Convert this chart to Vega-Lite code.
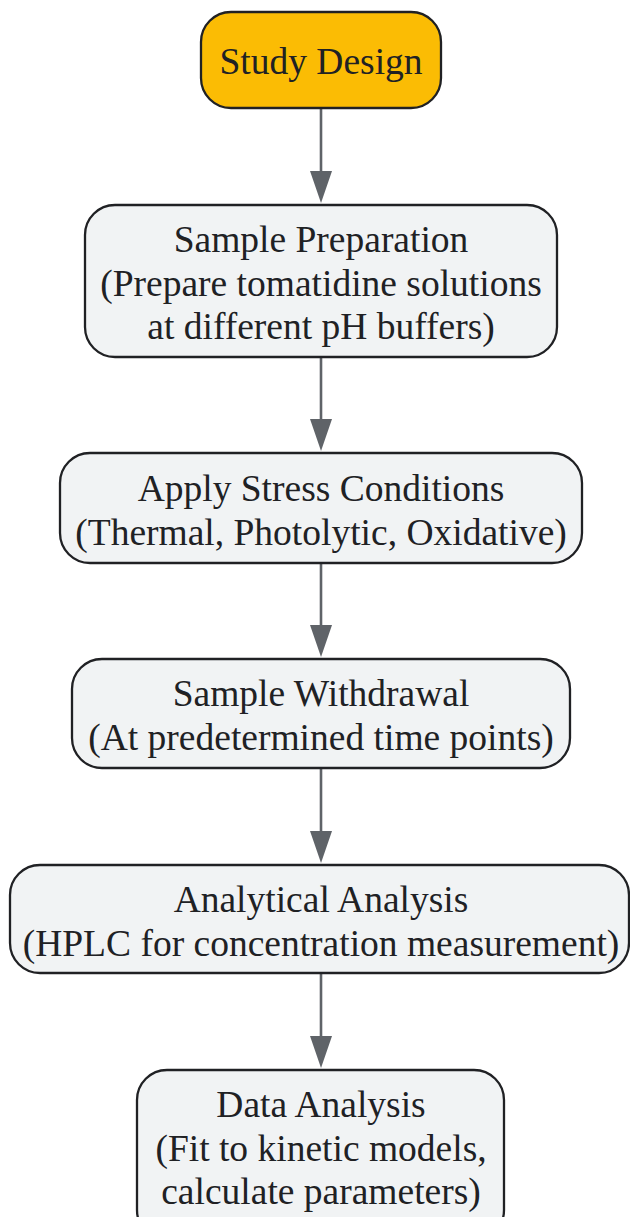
{
  "$schema": "https://vega.github.io/schema/vega-lite/v6.json",
  "width": 630,
  "height": 1217,
  "padding": 0,
  "autosize": {"type": "none"},
  "background": "white",
  "config": {"view": {"stroke": null}},
  "datasets": {
    "nodes": [
      {"id": 1, "label": "Study Design", "x1": 201, "x2": 441, "y1": 12, "y2": 108, "cx": 321, "cy": 63, "kind": "start"},
      {"id": 2, "label": "Sample Preparation\n(Prepare tomatidine solutions\nat different pH buffers)", "x1": 85, "x2": 557, "y1": 205, "y2": 357, "cx": 321, "cy": 241, "kind": "step"},
      {"id": 3, "label": "Apply Stress Conditions\n(Thermal, Photolytic, Oxidative)", "x1": 60, "x2": 582, "y1": 453, "y2": 563, "cx": 321, "cy": 490, "kind": "step"},
      {"id": 4, "label": "Sample Withdrawal\n(At predetermined time points)", "x1": 72, "x2": 570, "y1": 659, "y2": 768, "cx": 321, "cy": 695, "kind": "step"},
      {"id": 5, "label": "Analytical Analysis\n(HPLC for concentration measurement)", "x1": 10, "x2": 629, "y1": 865, "y2": 973, "cx": 321, "cy": 901, "kind": "step"},
      {"id": 6, "label": "Data Analysis\n(Fit to kinetic models,\ncalculate parameters)", "x1": 137, "x2": 504, "y1": 1070, "y2": 1240, "cx": 321, "cy": 1106, "kind": "step"}
    ],
    "edges": [
      {"from": 1, "to": 2, "x": 321, "ys": 108, "ye": 180, "tip": 203},
      {"from": 2, "to": 3, "x": 321, "ys": 357, "ye": 428, "tip": 451},
      {"from": 3, "to": 4, "x": 321, "ys": 563, "ye": 634, "tip": 657},
      {"from": 4, "to": 5, "x": 321, "ys": 768, "ye": 840, "tip": 863},
      {"from": 5, "to": 6, "x": 321, "ys": 973, "ye": 1045, "tip": 1068}
    ]
  },
  "layer": [
    {
      "data": {"name": "edges"},
      "mark": {"type": "rule", "color": "#5f6368", "strokeWidth": 2.6},
      "encoding": {
        "x": {"field": "x", "type": "quantitative", "scale": {"domain": [0, 630], "nice": false, "zero": false}, "axis": null},
        "y": {"field": "ys", "type": "quantitative", "scale": {"domain": [0, 1217], "nice": false, "zero": false, "reverse": true}, "axis": null},
        "y2": {"field": "ye"}
      }
    },
    {
      "data": {"name": "edges"},
      "mark": {"type": "point", "shape": "M-1,-2.9L1,-2.9L0,0Z", "filled": true, "color": "#5f6368", "opacity": 1, "size": 484, "strokeWidth": 0},
      "encoding": {
        "x": {"field": "x", "type": "quantitative"},
        "y": {"field": "tip", "type": "quantitative"}
      }
    },
    {
      "data": {"name": "nodes"},
      "mark": {"type": "rect", "cornerRadius": 30, "stroke": "#202124", "strokeWidth": 2.3},
      "encoding": {
        "x": {"field": "x1", "type": "quantitative"},
        "x2": {"field": "x2"},
        "y": {"field": "y1", "type": "quantitative"},
        "y2": {"field": "y2"},
        "fill": {"field": "kind", "type": "nominal", "scale": {"domain": ["start", "step"], "range": ["#fbbc04", "#f1f3f4"]}, "legend": null}
      }
    },
    {
      "data": {"name": "nodes"},
      "mark": {"type": "text", "font": "Liberation Serif", "fontSize": 37.5, "lineBreak": "\n", "lineHeight": 43.5, "align": "center", "baseline": "middle", "color": "#202124"},
      "encoding": {
        "x": {"field": "cx", "type": "quantitative"},
        "y": {"field": "cy", "type": "quantitative"},
        "text": {"field": "label", "type": "nominal"}
      }
    }
  ]
}
